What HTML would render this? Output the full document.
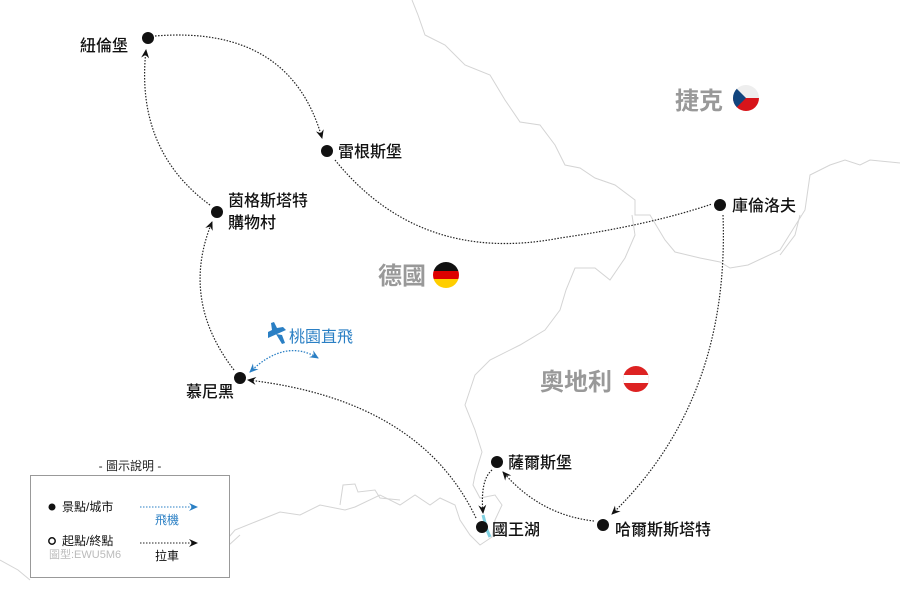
<!DOCTYPE html>
<html><head><meta charset="utf-8"><style>
body{margin:0;width:900px;height:600px;background:#fff;overflow:hidden;font-family:"Liberation Sans","Noto Sans CJK TC",sans-serif}
svg text{font-family:"Liberation Sans","Noto Sans CJK TC",sans-serif}
</style></head><body>
<svg width="900" height="600" viewBox="0 0 900 600" xmlns="http://www.w3.org/2000/svg">
<defs>
<marker id="a" markerWidth="10" markerHeight="10" refX="8" refY="5" orient="auto" markerUnits="userSpaceOnUse"><path d="M0,1 L9,5 L0,9 L3,5z" fill="#111"/></marker>
<marker id="b" markerWidth="10" markerHeight="10" refX="8" refY="5" orient="auto" markerUnits="userSpaceOnUse"><path d="M0,1 L9,5 L0,9 L3,5z" fill="#2a7fc4"/></marker>
<marker id="bs" markerWidth="10" markerHeight="10" refX="2" refY="5" orient="auto" markerUnits="userSpaceOnUse"><path d="M10,1 L1,5 L10,9 L7,5z" fill="#2a7fc4"/></marker>
</defs>
<g fill="none" stroke="#d4d4d4" stroke-width="1">
<path d="M412,0 L418,15 L425,35 L445,45 L465,65 L490,75 L505,100 L520,122 L540,125 L555,145 L565,165 L580,168 L595,178 L615,185 L635,200 L635,215 L650,215 L665,240 L675,252 L700,258 L720,262 L730,268 L748,265 L780,250 L805,210 L810,175 L830,165 L845,160 L860,165 L870,160 L900,163"/>
<path d="M800,215 L795,235 L780,255"/>
<path d="M632,215 L635,235 L625,258 L610,280 L595,268 L575,268 L566,290 L560,310 L545,330 L520,345 L490,360 L475,375 L470,390 L465,405 L475,430 L482,452 L475,475 L473,485 L480,498 L495,495 L502,505 L495,520 L492,537 L480,545 L470,535 L460,520 L455,505 L440,498 L430,505 L415,495 L400,505 L380,495 L355,507 L345,510 L320,505 L300,515 L280,512 L255,522 L235,530 L229,537"/>
<path d="M340,505 L343,485 L355,484 L358,492 L375,490 L380,498 L400,500"/>
<path d="M0,560 L18,570 L30,580"/>
<path d="M229,545 L240,535"/>
</g>
<path d="M483,515 L487,530 L490,537" stroke="#7fd0e0" stroke-width="3" fill="none"/>
<g fill="none" stroke="#222" stroke-width="1.2" stroke-dasharray="1.5,1.5">
<path d="M155,36 Q290,25 322,138" marker-end="url(#a)"/>
<path d="M335,160 Q420,265 560,238 Q650,225 712,204"/>
<path d="M723,215 Q730,400 612,514" marker-end="url(#a)"/>
<path d="M594,521 Q540,515 503,472" marker-end="url(#a)"/>
<path d="M492,470 Q480,480 483,513" marker-end="url(#a)"/>
<path d="M476,518 Q420,400 248,380" marker-end="url(#a)"/>
<path d="M234,370 Q180,300 212,222" marker-end="url(#a)"/>
<path d="M210,205 Q135,150 146,50" marker-end="url(#a)"/>
</g>
<path d="M250,372 Q285,338 318,358" fill="none" stroke="#2a7fc4" stroke-width="1.3" stroke-dasharray="1.5,1.5" marker-end="url(#b)" marker-start="url(#bs)"/>
<path d="M268,338 L286,330 L283,327 L277,328 L274,322 L271,323 L272,330 L268,332z M276,334 L282,344 L285,343 L282,335z" fill="#2a7fc4"/>
<text x="289" y="342" font-size="16" fill="#2a7fc4">桃園直飛</text>
<g fill="#111">
<circle cx="148" cy="38" r="6"/><circle cx="327" cy="151" r="6"/><circle cx="217" cy="212" r="6"/>
<circle cx="720" cy="205" r="6"/><circle cx="240" cy="378" r="6"/><circle cx="497" cy="462" r="6"/>
<circle cx="482" cy="527" r="6"/><circle cx="603" cy="525" r="6"/>
</g>
<g font-size="16" fill="#111" font-weight="500">
<text x="80" y="51">紐倫堡</text>
<text x="338" y="157">雷根斯堡</text>
<text x="228" y="206">茵格斯塔特</text>
<text x="228" y="228">購物村</text>
<text x="732" y="211">庫倫洛夫</text>
<text x="186" y="397">慕尼黑</text>
<text x="508" y="468">薩爾斯堡</text>
<text x="492" y="535">國王湖</text>
<text x="615" y="535">哈爾斯斯塔特</text>
</g>
<g font-size="24" font-weight="bold" fill="#999">
<text x="675" y="109">捷克</text>
<text x="378" y="284">德國</text>
<text x="540" y="390">奧地利</text>
</g>
<clipPath id="c1"><circle cx="746" cy="98" r="13"/></clipPath>
<g clip-path="url(#c1)"><rect x="733" y="85" width="26" height="13" fill="#eee"/><rect x="733" y="98" width="26" height="13" fill="#d7141a"/><path d="M733,85 L746,98 L733,111z" fill="#11457e"/></g>
<clipPath id="c2"><circle cx="446" cy="275" r="13"/></clipPath>
<g clip-path="url(#c2)"><rect x="433" y="262" width="26" height="9" fill="#111"/><rect x="433" y="271" width="26" height="8" fill="#dd0000"/><rect x="433" y="279" width="26" height="9" fill="#ffce00"/></g>
<clipPath id="c3"><circle cx="636" cy="379" r="13"/></clipPath>
<g clip-path="url(#c3)"><rect x="623" y="366" width="26" height="26" fill="#d22"/><rect x="623" y="375" width="26" height="8" fill="#fff"/></g>
<text x="130" y="470" font-size="12" fill="#222" text-anchor="middle">- 圖示說明 -</text>
<rect x="30.5" y="475.5" width="199" height="102" fill="#fff" stroke="#999"/>
<circle cx="52" cy="507" r="3.5" fill="#111"/>
<text x="62" y="511" font-size="12" fill="#111">景點/城市</text>
<circle cx="52" cy="541" r="3.2" fill="none" stroke="#111" stroke-width="1.5"/>
<text x="62" y="545" font-size="12" fill="#111">起點/終點</text>
<text x="49" y="558" font-size="11" fill="#bbb">圖型:EWU5M6</text>
<path d="M140,507 L197,507" stroke="#2a7fc4" stroke-dasharray="1.5,1.5" marker-end="url(#b)"/>
<text x="155" y="524" font-size="12" fill="#2a7fc4">飛機</text>
<path d="M140,543 L197,543" stroke="#222" stroke-dasharray="1.5,1.5" marker-end="url(#a)"/>
<text x="155" y="560" font-size="12" fill="#111">拉車</text>
</svg>
</body></html>
